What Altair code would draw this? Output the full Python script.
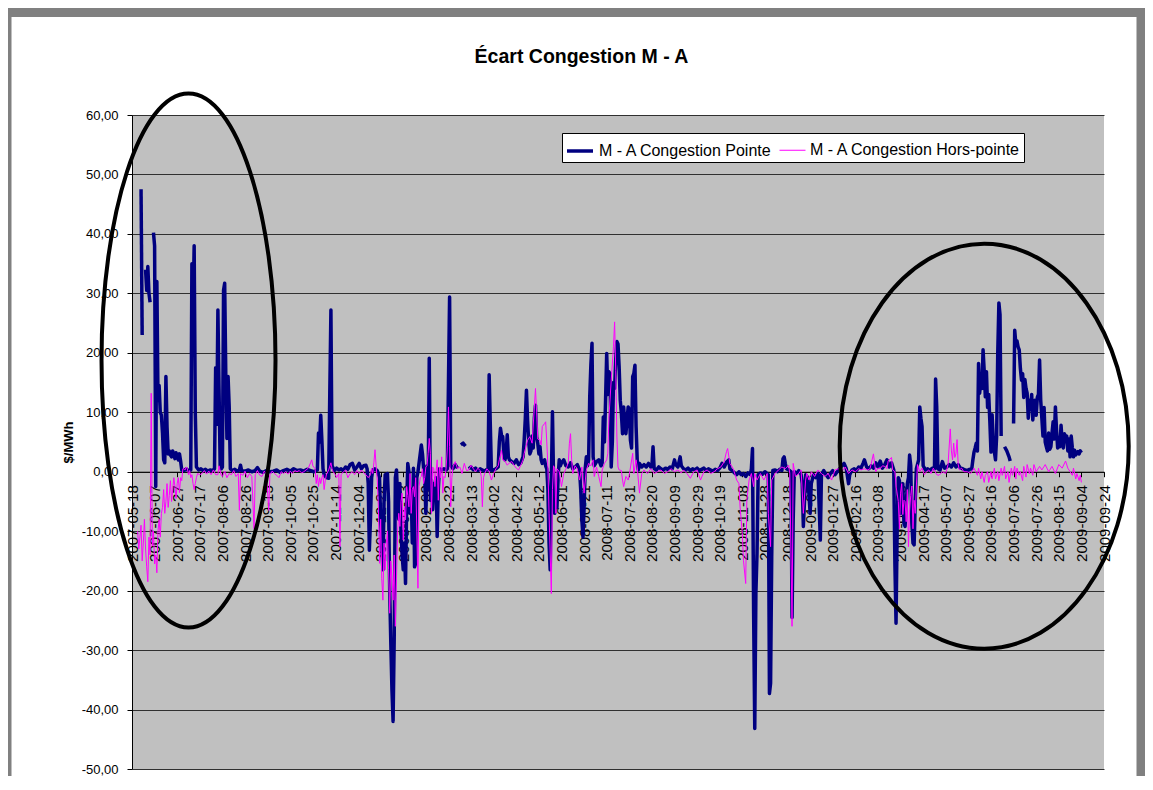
import altair as alt
import pandas as pd

# ---------------- data ----------------
START = pd.Timestamp("2007-05-18")
END = pd.Timestamp("2009-09-24")
TICK_STEP_DAYS = 20
N_TICKS = 44

TITLE = "Écart Congestion M - A"
Y_TITLE = "$/MWh"
SERIES = ["M - A Congestion Pointe", "M - A Congestion Hors-pointe"]
COLORS = ["#000080", "#FF00FF"]
WIDTHS = [3.5, 1.0]
Y_TICKS = list(range(-50, 61, 10))

# (day offset from START, value $/MWh); None = gap in the line
pointe = [
(8,47.5),(9,23.0),(10,None),
(12,34.0),(13,30.5),(14,34.5),(15,30.0),(16,28.5),(17,None),
(19,40.2),(20,38.0),(21,-2.5),(22,32.0),(23,12.0),(24,14.5),(25,10.0),(26,9.5),(27,6.5),(28,2.0),(29,1.5),(30,16.0),(31,7.5),(32,3.0),(33,3.5),(34,2.8),(35,2.5),(36,3.5),(37,2.8),(38,2.2),(39,3.2),(40,2.5),(41,2.0),(42,3.0),(43,1.8),(44,0.3),(46,0.2),(48,0.5),(50,0.2),(52,0.3),(53,35.0),(54,27.0),(55,38.0),(56,9.8),(57,0.8),(59,0.3),(61,0.5),(63,0.2),(65,0.4),(67,0.1),(69,0.3),(71,0.2),(73,0.5),(74,17.5),(75,8.0),(76,27.2),(77,14.0),(78,1.0),(79,0.5),(80,0.8),(81,30.5),(82,31.7),(83,16.0),(84,5.6),(85,16.0),(86,11.0),(87,0.5),(89,0.2),(91,0.4),(93,0.1),(95,0.3),(96,1.1),(97,0.2),(100,0.1),(103,0.3),(106,0.0),(109,0.2),(111,0.7),(113,0.1),(116,-0.1),(119,0.2),(122,0.0),(125,0.1),(128,0.3),(131,-0.1),(134,0.2),(137,0.4),(140,0.1),(143,0.5),(146,0.2),(149,0.3),(152,0.1),(155,0.4),(158,0.2),(161,0.0),(164,0.3),(165,6.5),(166,5.0),(167,9.5),(168,5.3),(169,0.5),(170,-0.5),(172,-1.0),(174,-1.1),(175,13.2),(176,27.2),(177,1.0),(179,0.2),(181,0.6),(183,0.3),(185,0.5),(187,0.2),(189,0.8),(191,0.4),(193,1.2),(195,1.4),(197,0.3),(199,0.8),(201,1.4),(203,0.5),(205,1.0),(207,1.1),(208,0.5),(209,-2.0),(210,-13.2),(211,-8.0),(212,-1.0),(213,0.3),(215,0.5),(217,0.2),
(219,-1.0),(220,-8.0),(221,-12.6),(222,-16.5),(223,-5.0),(224,-0.5),(226,-0.3),(227,-5.0),(228,-20.0),(229,-28.9),(230,-36.7),(231,-42.0),(232,-28.0),(233,-1.0),(234,0.3),(235,-4.0),(236,-8.0),(237,-2.0),(238,-10.0),(239,-14.0),(240,-16.5),(241,-12.0),(242,-18.8),(243,-6.0),(244,1.4),(245,0.0),(246,-7.0),(247,-3.0),(248,-12.0),(249,0.6),(250,-16.0),(251,-15.4),(252,-1.0),(253,0.0),(255,3.0),(256,4.5),(257,3.0),(258,0.5),(259,-1.0),(260,-7.0),(261,1.0),(262,-3.0),(263,19.1),(264,-4.8),(265,-1.4),(266,-6.4),(267,-2.0),(268,-3.6),(269,-1.0),(270,-10.9),(271,-3.0),(272,0.5),(274,0.3),(276,0.5),(278,0.3),(279,0.5),(280,14.9),(281,29.4),(282,1.0),(284,0.5),(286,1.2),(288,0.6),(289,None),(291,4.5),(293,4.8),(295,4.3),(296,None),(298,0.5),(300,0.8),(302,0.3),(304,0.6),(306,0.2),(308,0.5),(310,0.3),(312,0.1),(314,0.4),(315,0.3),(316,16.3),(317,8.0),(318,0.2),(320,0.3),(322,0.5),(324,0.8),(325,5.0),(326,7.3),(327,6.0),(328,5.9),(329,3.0),(330,2.0),(331,3.0),(332,6.2),(333,2.5),(334,2.0),(336,1.7),(338,1.4),(340,2.0),(342,1.2),(344,1.5),(346,2.5),(347,5.3),(348,9.0),(349,13.7),(350,8.7),(351,5.0),(352,3.0),(353,3.5),(354,6.0),(355,4.0),(356,9.0),(357,11.2),(358,5.9),(359,4.8),(360,3.0),(361,4.2),(362,2.0),(363,1.4),(365,2.0),(366,1.0),(367,0.5),(368,-3.0),(369,-12.0),(370,-16.5),(371,-2.0),(372,10.1),(373,-1.4),(374,-7.0),(375,-4.0),(376,-6.0),(377,-1.0),(378,2.0),(379,1.0),(380,1.5),(382,2.0),(384,1.0),(386,0.8),(388,1.5),(390,0.5),(392,0.8),(394,1.2),(396,0.3),(397,-3.0),(398,-8.0),(399,-11.0),(400,-6.0),(401,0.5),(402,2.5),(403,1.0),(404,2.0),(405,12.6),(406,18.0),(407,21.6),(408,2.5),(409,1.0),(411,1.7),(413,2.0),(415,1.0),(416,1.5),(417,9.2),(418,5.0),(419,12.0),(420,19.9),(421,13.0),(422,16.8),(423,16.5),(424,0.8),(425,5.0),(426,15.0),(427,14.0),(428,19.0),(429,21.9),(430,21.5),(431,17.7),(432,12.0),(433,9.8),(434,6.4),(435,10.9),(436,8.1),(437,6.4),(438,8.7),(439,10.9),(440,10.5),(441,5.3),(442,4.0),(443,16.0),(444,16.5),(445,17.9),(446,7.6),(447,2.0),(448,0.3),
(449,1.4),(451,0.8),(453,1.2),(455,0.8),(457,1.4),(459,0.8),(460,1.0),(461,4.2),(462,0.5),(464,0.3),(466,0.8),(468,0.5),(470,0.3),(472,0.6),(474,0.4),(476,0.8),(478,0.5),(480,2.0),(481,1.2),(483,0.8),(485,2.5),(486,1.0),(488,0.5),(490,0.3),(492,0.6),(494,0.2),(496,0.5),(498,0.3),(500,0.6),(502,0.2),(504,0.4),(506,0.6),(508,0.2),(510,0.5),(512,0.3),(514,0.1),(516,0.4),(518,0.2),(520,0.6),(522,1.4),(524,0.8),(526,1.6),(528,2.0),(529,0.5),(531,0.2),(533,-0.2),(535,-0.5),(537,0.0),(539,-0.5),(541,-0.3),(543,-0.8),(545,-0.2),(547,-0.5),(548,0.5),(549,3.9),(550,-23.8),(551,-43.2),(552,-20.5),(553,-13.7),(554,-0.5),(556,-0.2),(558,-0.4),(560,0.0),(562,-0.3),(563,-0.5),(564,-37.3),(565,-35.6),(566,-14.3),(567,0.2),(569,0.3),(571,0.0),(573,0.4),(575,0.2),(576,2.2),(577,2.5),(578,1.4),(579,0.5),(581,0.3),(583,0.0),(584,-24.5),(585,-8.1),(586,0.0),(588,-0.3),(590,0.2),(592,-0.5),(593,-2.0),(594,-9.2),(595,-5.0),(596,-0.5),(598,-1.0),(600,-7.0),(601,-2.0),(603,-0.5),(605,-1.0),(607,-0.3),(609,-11.5),(610,-0.5),(612,0.2),(614,-0.5),(616,-1.0),(618,-0.3),(620,0.2),(622,-0.5),(624,0.0),(626,0.5),(628,1.0),(630,1.4),(632,0.5),(634,-2.0),(635,-0.5),(637,0.3),(639,0.5),(641,0.2),(643,0.8),(645,0.6),(647,1.5),(648,2.0),(650,0.8),(652,0.5),(654,1.0),(656,0.6),(658,1.5),(660,0.8),(662,1.8),(664,0.6),(666,1.2),(668,2.0),(670,0.8),(672,1.5),(674,0.3),
(675,-15.6),(676,-25.5),(677,-9.6),(678,-1.0),(679,-1.5),(680,-7.0),(681,-4.0),(682,-2.0),(683,-8.7),(684,-9.2),(685,-6.0),(686,-2.0),(687,-1.0),(688,2.8),(689,1.0),(690,-8.7),(691,-12.0),(692,-12.3),(693,-5.0),(694,0.5),(696,2.0),(697,10.9),(698,9.0),(699,7.6),(700,1.0),(702,0.3),(704,0.5),(706,0.2),(708,0.6),(710,0.5),(711,15.6),(712,10.9),(713,0.5),(715,0.3),(717,1.7),(719,0.6),(721,0.8),(723,1.2),(725,0.8),(727,1.5),(729,0.8),(731,1.2),(733,0.6),(735,0.5),(737,0.3),(739,0.2),(741,0.4),(743,0.5),(744,2.0),(745,3.3),(746,4.0),(747,4.8),(748,3.5),
(749,18.2),(750,13.2),(751,16.0),(752,14.0),(753,20.5),(754,17.0),(755,12.6),(756,16.8),(757,10.8),(758,13.0),(759,8.4),(760,3.3),(761,9.6),(762,5.4),(763,3.3),(764,2.0),(765,6.0),(766,20.0),(767,28.4),(768,26.4),(769,6.0),(770,None),(772,4.2),(774,3.5),(776,2.5),(777,1.8),(778,None),(780,8.1),(781,23.8),(782,21.5),(783,22.0),(784,21.0),(785,20.5),(786,17.4),(787,15.4),(788,16.5),(789,12.5),(790,15.5),(791,14.0),(792,13.2),(793,9.0),(794,12.0),(795,10.5),(796,13.0),(797,8.7),(798,11.5),(799,12.0),(800,9.5),(801,12.5),(802,13.0),(803,18.8),(804,12.0),(805,9.0),(806,6.0),(807,10.8),(808,5.0),(809,4.2),(810,3.5),(811,6.5),(812,3.8),(813,4.2),(814,6.5),(815,8.4),(816,5.5),(817,10.9),(818,7.0),(819,4.0),(820,5.5),(821,4.2),(822,7.8),(823,5.0),(824,4.0),(825,6.4),(826,5.5),(827,6.0),(828,3.5),(829,5.5),(830,2.5),(831,6.0),(832,4.0),(833,2.5),(834,3.6),(835,2.8),(836,3.2),(837,3.4),(838,3.0),(839,3.5),(840,3.2),
]

hors_pointe = [
(5,-10.0),(6,-13.0),(7,-11.0),(8,-9.0),(9,-15.0),(10,-12.0),(11,-8.0),(12,-13.0),(13,-16.0),(14,-18.5),(15,-11.0),(16,-14.0),(17,13.2),(18,-12.5),(19,-10.0),(20,-15.5),(21,-14.0),(22,-17.0),(23,-10.0),(24,-8.0),(25,-11.0),(26,-7.0),(27,-6.0),(28,-3.0),(29,-7.0),(30,-5.0),(31,-2.0),(32,-6.0),(33,-4.0),(34,-1.5),(35,-5.0),(36,-3.0),(37,-1.0),(38,-2.5),(39,-4.5),(40,-2.0),(41,-1.0),(42,-3.5),(43,-1.0),(44,-1.5),(45,0.5),(46,0.5),(47,0.3),(48,0.8),(49,0.5),(50,-0.5),(51,0.2),(52,-1.0),(53,-0.5),(54,-2.0),(55,-3.0),(56,-2.0),(57,-1.0),(58,-0.3),(60,-0.5),(62,-0.3),(64,0.2),(66,-0.4),(68,0.1),(70,-0.5),(72,0.3),(74,-0.5),(76,-0.5),(77,1.0),(78,0.2),(79,-0.6),(80,-0.8),(82,0.1),(84,-1.0),(86,-0.3),(88,-0.5),(90,0.2),(92,-0.8),(94,-0.3),(95,-6.5),(96,-0.3),(98,-0.6),(100,0.1),(102,-1.0),(104,-0.3),(106,-0.8),(108,-9.6),(109,-0.5),(111,0.2),(113,-0.6),(115,-0.8),(117,0.1),(119,-0.4),(121,-6.5),(122,-0.5),(124,0.1),(126,-0.3),(128,-0.6),(130,-1.0),(132,0.0),(134,-0.3),(136,0.0),(138,-0.4),(140,0.1),(142,-0.3),(144,0.2),(146,0.0),(148,0.2),(150,-0.2),(152,0.0),(154,0.3),(156,0.6),(158,1.5),(159,2.0),(160,1.0),(162,0.5),(163,-2.0),(164,-0.5),(165,-2.5),(166,-1.0),(167,-2.0),(168,-1.0),(169,-0.5),(170,-3.0),(171,-1.5),(172,-0.5),(174,0.3),(176,1.5),(177,0.5),(178,0.0),(180,-0.5),(181,-1.0),(183,-0.3),(184,-12.6),(185,-0.5),(187,0.0),(189,0.3),(191,-1.0),(193,-0.3),(195,0.0),(197,-0.5),(199,0.2),(201,-0.3),(203,0.3),(205,-0.2),(207,-0.5),(209,-1.0),(211,-0.5),(212,0.5),(213,-0.3),(214,1.5),(215,3.7),(216,1.0),(217,-1.4),
(218,-6.0),(219,-15.4),(220,-8.0),(221,-18.0),(222,-21.6),(223,-12.0),(224,-16.5),(225,-12.0),(226,-10.0),(227,-16.5),(228,-23.8),(229,-15.0),(230,-18.0),(231,-21.6),(232,-14.0),(233,-26.0),(234,-18.2),(235,-10.0),(236,-7.0),(237,-9.2),(238,-5.0),(239,-3.6),(240,-11.5),(241,-6.0),(242,-8.1),(243,-2.5),(244,-4.0),(245,-5.9),(246,-0.3),(247,-7.0),(248,-3.0),(249,-2.5),(250,-4.2),(251,-1.0),(252,-10.0),(253,-19.6),(254,-2.5),(255,-1.0),(256,-0.8),(257,0.5),(258,-2.0),(259,-1.0),(260,0.8),(261,1.0),(262,3.1),(263,5.6),(264,3.1),(265,-7.0),(266,0.8),(267,0.5),(268,-2.5),(269,0.0),(270,2.0),(271,-4.8),(272,0.8),(273,-1.0),(274,2.5),(275,-3.6),(276,-0.8),(277,-1.0),(278,0.8),(279,4.0),(280,10.9),(281,4.2),(282,-5.9),(283,-1.0),(284,0.8),(286,1.7),(288,0.5),(290,0.8),(292,-0.3),(294,1.4),(296,0.2),(298,0.3),(300,1.1),(302,0.5),(304,0.0),(306,0.6),(308,0.2),(309,-0.8),(310,-5.9),(311,-1.0),(312,-0.3),(314,0.5),(316,0.0),(318,-1.4),(320,-0.3),(322,0.5),(324,1.0),(325,2.0),(327,3.6),(328,2.0),(330,1.8),(332,1.1),(334,1.5),(336,1.7),(338,1.1),(340,0.6),(342,0.3),(344,1.1),(346,2.0),(347,3.1),(349,4.5),(350,5.3),(352,5.9),(354,4.8),(356,10.9),(357,14.0),(358,10.0),(359,5.5),(361,5.3),(362,4.5),(363,7.6),(365,8.1),(366,8.4),(367,5.0),(368,0.8),(369,-7.0),(371,-20.5),(372,-3.0),(373,1.0),(374,0.5),(375,-7.0),(376,0.5),(378,0.0),(380,-2.5),(382,-0.3),(384,0.5),(386,1.5),(387,4.8),(388,6.4),(389,2.0),(390,-0.3),(392,1.0),(394,0.5),(396,-1.4),(398,0.8),(400,-3.6),(402,0.3),(404,1.4),(406,1.0),(408,2.0),(409,-0.8),(411,0.8),(413,-0.8),(415,-2.5),(416,0.3),(418,1.4),(420,2.0),(421,3.1),(422,9.2),(424,15.4),(426,21.0),(427,25.2),(428,17.0),(429,6.0),(430,0.8),(431,0.3),(433,0.2),(434,-1.4),
(435,-2.5),(437,-0.8),(439,-1.4),(440,-0.5),(443,3.1),(444,-0.3),(446,2.0),(447,0.8),(449,-3.6),(451,-0.3),(453,0.3),(456,-0.3),(459,0.5),(462,-0.3),(465,0.0),(468,0.3),(471,-0.3),(474,0.0),(477,0.5),(480,0.0),(483,0.3),(486,-0.2),(488,0.3),(491,-0.3),(494,-1.1),(497,0.0),(500,0.3),(503,-1.4),(506,0.0),(509,0.3),(512,-0.3),(515,0.0),(518,0.5),(521,0.8),(524,1.7),(526,3.4),(527,3.9),(529,1.4),(532,0.5),(535,-1.4),(537,-2.0),(538,-5.9),(540,-10.4),(541,-14.9),(543,-18.8),(544,-4.8),(546,-1.4),(548,-0.3),(550,-2.5),(551,-0.3),(553,-1.4),(556,-0.3),(559,-1.4),(562,-0.3),(563,-7.0),(565,-12.6),(566,-1.4),(569,-0.3),(572,0.3),(575,0.8),(578,0.5),(581,1.1),(582,-0.3),(584,-26.0),(585,1.4),(587,-0.8),(590,-0.3),(592,0.3),(594,-7.0),(596,-1.4),(597,-0.3),(599,-1.4),(601,0.0),(604,-0.8),(607,0.3),(610,-0.3),(613,-0.8),(616,-0.3),(619,-1.4),(622,0.3),(625,0.5),(628,0.0),(631,0.8),(634,-0.3),(637,0.3),(640,0.0),(643,0.5),(645,0.3),(648,0.5),(651,0.3),
(653,0.5),(656,3.0),(658,0.0),(660,0.6),(662,0.5),(664,1.0),(666,0.9),(668,0.5),(669,1.8),(672,2.4),(673,0.3),(675,0.0),(676,-2.4),(678,-5.0),(679,-9.6),(680,-3.6),(681,-2.0),(682,-7.2),(683,-4.8),(684,-5.0),(685,-8.4),(686,-3.0),(687,-12.6),(688,-6.6),(689,-4.0),(690,-2.4),(691,-9.6),(692,-4.8),(693,-7.0),(694,-2.4),(695,1.2),(697,0.0),(699,0.6),(701,-0.5),(703,0.0),(705,0.3),(707,-0.3),(709,0.6),(712,-0.5),(714,-0.6),(717,0.0),(720,-0.3),(722,1.2),(724,7.2),(725,3.5),(726,2.0),(727,4.8),(728,2.4),(729,3.0),(730,5.4),(731,1.2),(732,0.3),(734,0.6),(736,0.0),(739,0.0),(742,-0.3),(745,0.6),(748,-0.6),(749,0.6),(751,-1.2),(752,0.0),(754,-1.8),(755,-0.6),(757,0.0),(758,-1.8),(760,0.0),(761,-1.2),(763,0.6),(764,-1.2),(766,0.0),(767,-1.5),(769,0.6),(770,-0.6),(772,0.9),(773,-1.2),(775,0.0),(776,-1.8),(778,0.6),(779,-0.6),(781,0.9),(782,-1.2),(783,0.6),(785,-0.6),(786,0.0),(788,-1.5),(789,0.9),(791,-0.9),(792,1.2),(794,-0.3),(795,0.6),(797,-0.6),(798,1.2),(800,0.0),(803,0.9),(805,0.3),(808,1.2),(811,0.0),(814,0.9),(817,-0.3),(820,1.2),(823,0.6),(826,1.8),(828,0.6),(830,0.0),(832,-0.6),(833,0.6),(835,-1.2),(836,-0.3),(838,-1.5),(839,-0.6),(840,-1.8),
]

# highlighted zones (centre date, centre value) with ellipse radii in px
ellipse_dates = ["2007-07-07", "2009-06-10"]
ellipse_values = [18.7, 4.3]
ellipse_radii = [(87, 267), (144.5, 202.5)]


def to_frame(pairs, name):
    rows, seg = [], 0
    for d, v in pairs:
        if v is None:
            seg += 1
            continue
        rows.append({"date": START + pd.Timedelta(days=d), "value": v,
                     "series": name, "seg": seg})
    return pd.DataFrame(rows)


pointe_df = to_frame(pointe, SERIES[0])
hors_df = to_frame(hors_pointe, SERIES[1])


def dt(ts):
    return alt.DateTime(year=ts.year, month=ts.month, date=ts.day)


tick_values = [dt(START + pd.Timedelta(days=TICK_STEP_DAYS * k)) for k in range(N_TICKS)]

FONT = "Liberation Sans"
PLOT_W, PLOT_H = 972, 654
zero_offset = -(PLOT_H - PLOT_H * 60 / 110)

x_enc = alt.X(
    "date:T",
    scale=alt.Scale(domain=[dt(START), dt(END)], nice=False),
    axis=alt.Axis(values=tick_values, format="%Y-%m-%d", labelAngle=270,
                  offset=zero_offset, title=None, grid=False, tickSize=5,
                  labelFontSize=15, labelFont=FONT, labelColor="black",
                  labelPadding=8, labelOverlap=False, labelFlush=False,
                  labelBound=False, domainColor="black", tickColor="black"),
)
y_enc = alt.Y(
    "value:Q",
    scale=alt.Scale(domain=[-50, 60], nice=False),
    axis=alt.Axis(values=Y_TICKS,
                  labelExpr="replace(replace(format(datum.value, '.2f'), '.', ','), '\u2212', '-')",
                  grid=True, gridColor="#303030", gridOpacity=1,
                  domainColor="black", tickColor="black", tickSize=5,
                  labelFontSize=13, labelFont=FONT, labelColor="black", labelPadding=9,
                  title=Y_TITLE, titleFont=FONT, titleFontSize=13, titleFontWeight="bold",
                  titleColor="black", titlePadding=6),
)
legend = alt.Legend(orient="none", legendX=430, legendY=18, direction="horizontal",
                    title=None, symbolType="stroke", symbolSize=676,
                    labelFont=FONT, labelFontSize=16, labelColor="black", labelLimit=400,
                    fillColor="white", strokeColor="black", padding=3,
                    columnPadding=4, labelOffset=4)
color_enc = alt.Color("series:N", scale=alt.Scale(domain=SERIES, range=COLORS), legend=legend)
width_enc = alt.StrokeWidth("series:N",
                            scale=alt.Scale(type="point", domain=SERIES, range=WIDTHS, padding=0),
                            legend=legend)

pointe_line = alt.Chart(pointe_df).mark_line(strokeJoin="round").encode(
    x=x_enc, y=y_enc, color=color_enc, strokeWidth=width_enc, detail="seg:N")
hors_line = alt.Chart(hors_df).mark_line().encode(
    x=x_enc, y=y_enc, color=color_enc, strokeWidth=width_enc)


def ellipse_path(rx, ry):
    a, k = rx / ry, 0.5523
    ka = k * a
    return (f"M 0 -1 C {ka:.4f} -1 {a:.4f} {-k:.4f} {a:.4f} 0 "
            f"C {a:.4f} {k:.4f} {ka:.4f} 1 0 1 "
            f"C {-ka:.4f} 1 {-a:.4f} {k:.4f} {-a:.4f} 0 "
            f"C {-a:.4f} {-k:.4f} {-ka:.4f} -1 0 -1 Z")


ellipses = []
for d, v, (rx, ry) in zip(ellipse_dates, ellipse_values, ellipse_radii):
    edf = pd.DataFrame({"date": [pd.Timestamp(d)], "value": [v]})
    ellipses.append(
        alt.Chart(edf).mark_point(shape=ellipse_path(rx, ry), size=(2 * ry) ** 2,
                                  filled=False, stroke="black", color="black",
                                  strokeWidth=4, opacity=1)
        .encode(x=x_enc, y=y_enc)
    )

one = pd.DataFrame({"t": [TITLE]})
title_mark = alt.Chart(one).mark_text(font=FONT, fontSize=19.5, fontWeight="bold",
                                      color="black", align="center", baseline="middle").encode(
    text="t:N", x=alt.value(449.5), y=alt.value(-58))

frame = alt.Chart(pd.DataFrame({"a": [0]})).mark_rect(
    filled=False, stroke="#808080", strokeWidth=9).encode(
    x=alt.value(-125), x2=alt.value(1009), y=alt.value(-102.5), y2=alt.value(677))

chart = alt.layer(frame, pointe_line, hors_line, *ellipses, title_mark).properties(
    width=PLOT_W, height=PLOT_H,
    padding={"left": 124, "top": 107, "right": 41, "bottom": 7},
    autosize=alt.AutoSizeParams(type="none"),
).configure(background="white").configure_view(fill="#C0C0C0", strokeWidth=0)

chart.save("out.html", embed_options={"renderer": "svg", "actions": False})
